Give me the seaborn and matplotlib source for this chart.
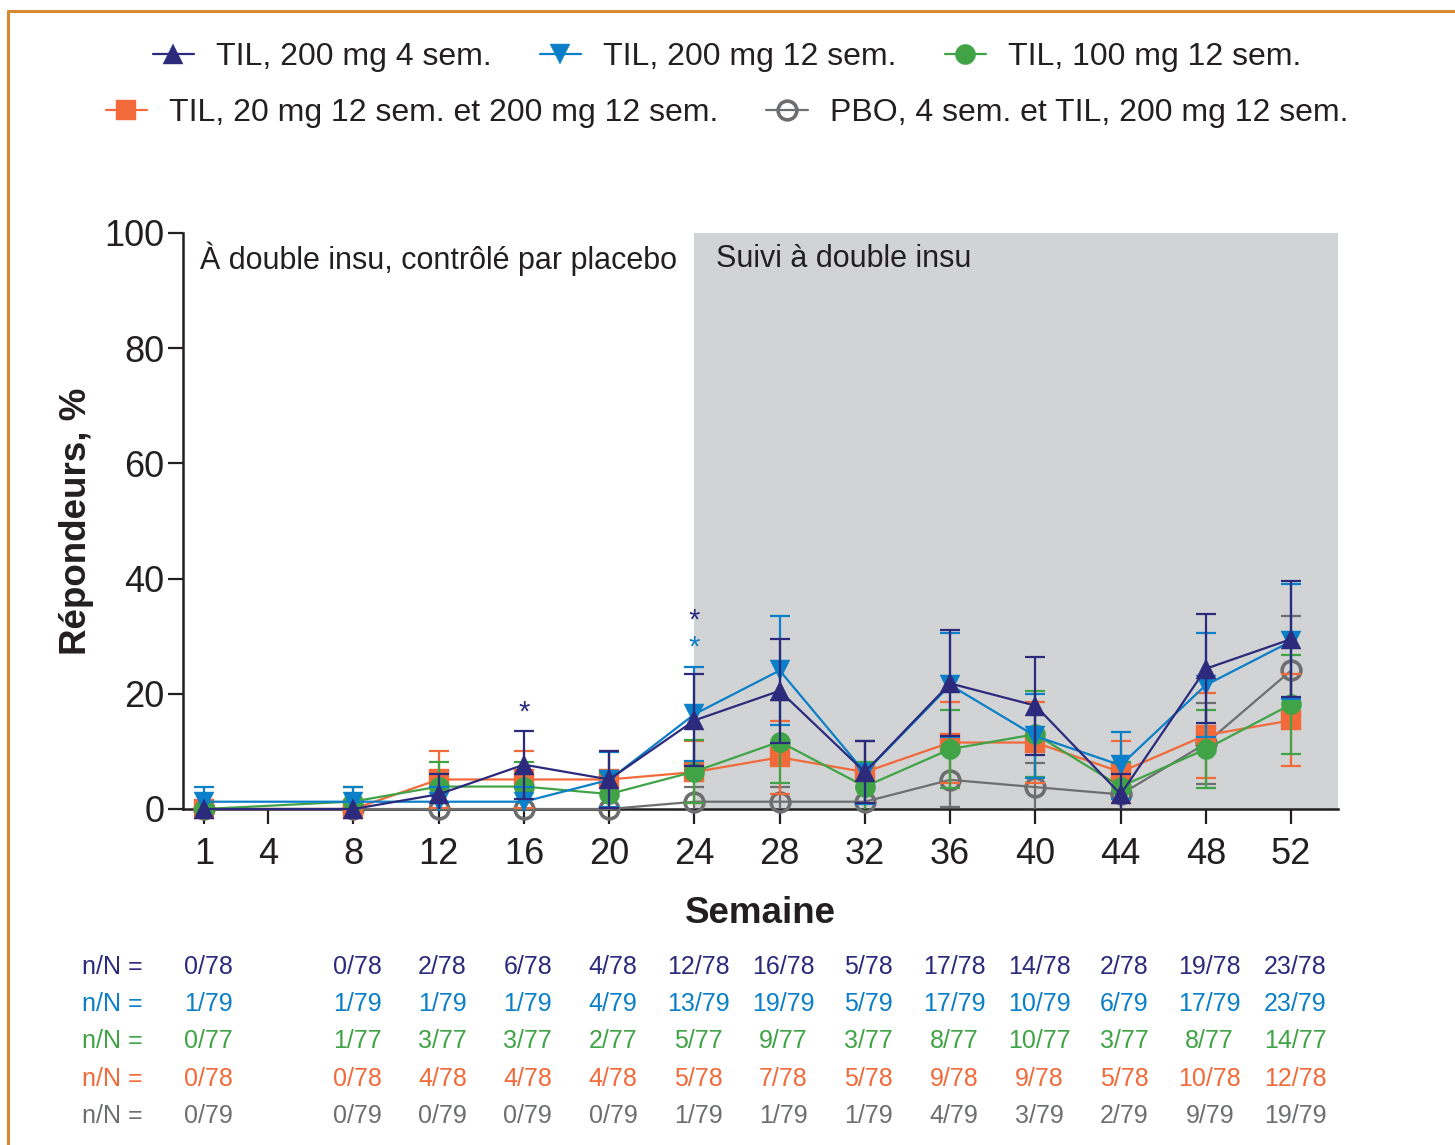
import numpy as np
import pandas as pd
import matplotlib
matplotlib.use("Agg")
import matplotlib.pyplot as plt
from matplotlib.lines import Line2D
from matplotlib.transforms import blended_transform_factory
import seaborn as sns

# ---------------- data ----------------
weeks = [1, 8, 12, 16, 20, 24, 28, 32, 36, 40, 44, 48, 52]
tick_weeks = [1, 4, 8, 12, 16, 20, 24, 28, 32, 36, 40, 44, 48, 52]

labels = ["TIL, 200 mg 4 sem.", "TIL, 200 mg 12 sem.", "TIL, 100 mg 12 sem.",
          "TIL, 20 mg 12 sem. et 200 mg 12 sem.", "PBO, 4 sem. et TIL, 200 mg 12 sem."]

n_navy = [0, 0, 2, 6, 4, 12, 16, 5, 17, 14, 2, 19, 23]
N_navy = 78
n_blue = [1, 1, 1, 1, 4, 13, 19, 5, 17, 10, 6, 17, 23]
N_blue = 79
n_green = [0, 1, 3, 3, 2, 5, 9, 3, 8, 10, 3, 8, 14]
N_green = 77
n_orange = [0, 0, 4, 4, 4, 5, 7, 5, 9, 9, 5, 10, 12]
N_orange = 78
n_gray = [0, 0, 0, 0, 0, 1, 1, 1, 4, 3, 2, 9, 19]
N_gray = 79

# error bar half-widths (%)
err_navy = [0, 0, 3.5, 5.9, 4.9, 8.0, 9.0, 5.4, 9.2, 8.5, 3.5, 9.5, 10.1]
err_blue = [2.5, 2.5, 2.5, 2.5, 4.8, 8.2, 9.4, 5.4, 9.1, 7.3, 5.8, 9.1, 10.0]
err_green = [0, 2.5, 4.3, 4.3, 3.6, 5.5, 7.2, 4.3, 6.8, 7.5, 4.3, 6.8, 8.6]
err_orange = [0, 0, 4.9, 4.9, 4.9, 5.4, 6.3, 5.4, 7.1, 7.1, 5.4, 7.4, 8.0]
err_gray = [0, 0, 0, 0, 0, 2.5, 2.5, 2.5, 4.8, 4.2, 3.5, 7.0, 9.4]

# ---------------- style ----------------
sns.set_style("ticks")
plt.rcParams["font.family"] = ["Liberation Sans", "DejaVu Sans"]
TXT = "#231f20"
C_NAVY = "#2c2a7c"
C_BLUE = "#0b7fc7"
C_GREEN = "#40a447"
C_ORANGE = "#f26a3a"
C_GRAY = "#6d6e70"
C_SHADE = "#d1d3d4"

fig = plt.figure(figsize=(14.55, 11.45), dpi=100)
W, H = 1455, 1145
ax = fig.add_axes([183 / W, 336 / H, (1338 - 183) / W, (809 - 233) / H])

ax.axvspan(24, 54.2, color=C_SHADE, lw=0, zorder=0)

series = [
    # n, N, err, color, marker, mfc, size, zorder
    (n_gray, N_gray, err_gray, C_GRAY, "o", "none", 13.5, 3),
    (n_orange, N_orange, err_orange, C_ORANGE, "s", C_ORANGE, 14.5, 4),
    (n_green, N_green, err_green, C_GREEN, "o", C_GREEN, 14.5, 5),
    (n_blue, N_blue, err_blue, C_BLUE, "v", C_BLUE, 14.5, 6),
    (n_navy, N_navy, err_navy, C_NAVY, "^", C_NAVY, 14.5, 7),
]
handles = {}
for n, N, err, col, mk, mfc, ms, z in series:
    pct = np.array(n) / N * 100
    df = pd.DataFrame({"Semaine": weeks, "pct": pct})
    e = np.array(err)
    m = e > 0
    ax.errorbar(np.array(weeks)[m], pct[m], yerr=e[m], fmt="none", ecolor=col,
                elinewidth=1.6, capsize=7.2, capthick=1.6, zorder=z)
    sns.lineplot(data=df, x="Semaine", y="pct", ax=ax, color=col, marker=mk,
                 markersize=ms, markerfacecolor=mfc, markeredgecolor=col,
                 markeredgewidth=2.6 if mfc == "none" else 0.3,
                 linewidth=1.6, clip_on=False, zorder=z + 0.5)
    handles[col] = ax.lines[-1]

ax.set_xlim(0, 54.2)
ax.set_ylim(0, 100)
ax.set_xticks(tick_weeks)
ax.set_yticks([0, 20, 40, 60, 80, 100])
ax.tick_params(axis="both", direction="out", length=10.5, width=1.6, colors=TXT,
               labelsize=26)
ax.tick_params(axis="x", pad=10)
ax.tick_params(axis="y", pad=3)
for s in ["top", "right"]:
    ax.spines[s].set_visible(False)
for s in ["left", "bottom"]:
    ax.spines[s].set_linewidth(1.8)
    ax.spines[s].set_color(TXT)
ax.set_xlabel("Semaine", fontsize=26.5, fontweight="bold", color=TXT, labelpad=17)
ax.set_ylabel("Répondeurs, %", fontsize=26.5, fontweight="bold", color=TXT, labelpad=7)

ax.text(0.82, 95.5, "À double insu, contrôlé par placebo", fontsize=22, color=TXT,
        ha="left", va="center")
ax.text(25.0, 95.5, "Suivi à double insu", fontsize=22, color=TXT,
        ha="left", va="center")

# significance asterisks
ax.text(16, 16.75, "*", fontsize=21, color=C_NAVY, ha="center", va="center", zorder=10)
ax.text(24, 32.8, "*", fontsize=21, color=C_NAVY, ha="center", va="center", zorder=10)
ax.text(24, 28.1, "*", fontsize=21, color=C_BLUE, ha="center", va="center", zorder=10)

# legends
leg_kw = dict(loc="center", frameon=False, fontsize=23, handlelength=1.3,
              handletextpad=0.69, columnspacing=1.5, borderpad=0, borderaxespad=0,
              labelcolor=TXT)
leg1 = fig.legend([handles[C_NAVY], handles[C_BLUE], handles[C_GREEN]], labels[:3],
                  ncol=3, bbox_to_anchor=(727 / W, 1 - 57 / H), **leg_kw)
leg2 = fig.legend([handles[C_ORANGE], handles[C_GRAY]], labels[3:],
                  ncol=2, bbox_to_anchor=(727 / W, 1 - 113 / H), **leg_kw)

# n/N table
tr = blended_transform_factory(ax.transData, fig.transFigure)
rows = [(n_navy, N_navy, C_NAVY), (n_blue, N_blue, C_BLUE), (n_green, N_green, C_GREEN),
        (n_orange, N_orange, C_ORANGE), (n_gray, N_gray, C_GRAY)]
row_y = [967, 1004, 1041, 1079, 1116]
for (n, N, col), yp in zip(rows, row_y):
    yf = 1 - yp / H
    fig.text(82 / W, yf, "n/N =", fontsize=18, color=col, ha="left", va="center")
    for wk, v in zip(weeks, n):
        fig.text(wk + 0.18, yf, f"{v}/{N}", transform=tr, fontsize=18, color=col,
                 ha="center", va="center")

# frame lines
fig.add_artist(Line2D([8 / W, 8 / W], [0, 1 - 11 / H], transform=fig.transFigure,
                      color="#d6892e", lw=2.2))
fig.add_artist(Line2D([8 / W, 1], [1 - 11 / H, 1 - 11 / H], transform=fig.transFigure,
                      color="#d6892e", lw=2.2))

fig.savefig("out.png", dpi=100)
